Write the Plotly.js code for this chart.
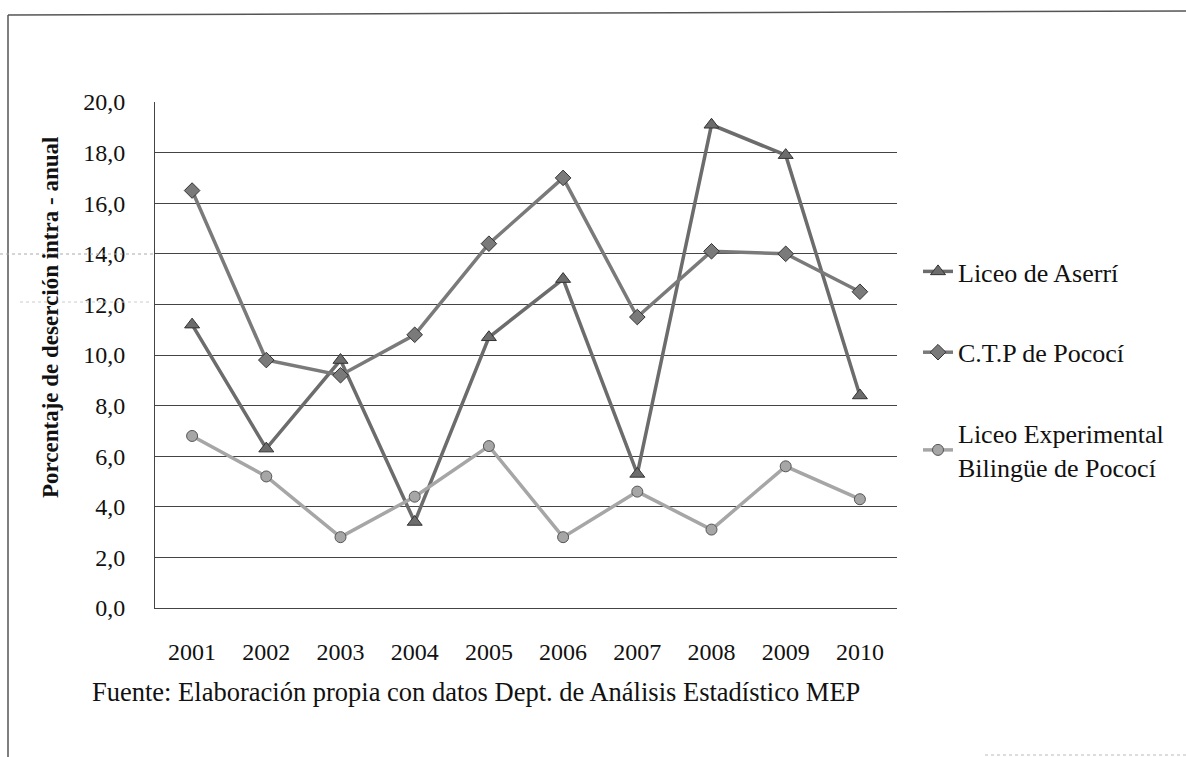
<!DOCTYPE html>
<html>
<head>
<meta charset="utf-8">
<script src="https://cdn.plot.ly/plotly-3.0.1.min.js"></script>
<style>html,body{margin:0;padding:0;background:#fff;}#chart{width:1186px;height:757px;}</style>
</head>
<body>
<div id="chart"></div>
<script>
// ---- data ----
const years = ["2001","2002","2003","2004","2005","2006","2007","2008","2009","2010"];
const liceoAserri = [11.2, 6.3, 9.8, 3.4, 10.7, 13.0, 5.3, 19.1, 17.9, 8.4];
const ctpPococi = [16.5, 9.8, 9.2, 10.8, 14.4, 17.0, 11.5, 14.1, 14.0, 12.5];
const liceoExperimental = [6.8, 5.2, 2.8, 4.4, 6.4, 2.8, 4.6, 3.1, 5.6, 4.3];
const seriesNames = ["Liceo de Aserrí", "C.T.P de Pococí", "Liceo Experimental<br>Bilingüe de Pococí"];
const yTitle = "Porcentaje de deserción intra - anual";
const sourceNote = "Fuente: Elaboración propia con datos Dept. de Análisis Estadístico MEP";

const serif = "Liberation Serif";

// plot area in pixels: x 155..897, y 102..608
const W = 1186, H = 757, L = 155, R = 897, T = 102, B = 608;
const px = v => (v - L) / (R - L);
const py = v => (B - v) / (B - T);

const traces = [
  {x: years, y: liceoAserri, name: seriesNames[0], legendgroup: "a", mode: "lines+markers",
   line: {color: "#6c6c6c", width: 3.5},
   marker: {symbol: "triangle-up", size: 13, color: "#6c6c6c", line: {color: "#333", width: 1}}},
  {x: years, y: ctpPococi, name: seriesNames[1], legendgroup: "b", mode: "lines+markers",
   line: {color: "#7a7a7a", width: 3.5},
   marker: {symbol: "diamond", size: 12, color: "#7a7a7a", line: {color: "#333", width: 1}}},
  {x: years, y: liceoExperimental, name: seriesNames[2], legendgroup: "c", mode: "lines+markers",
   line: {color: "#a6a6a6", width: 3.5},
   marker: {symbol: "circle", size: 11, color: "#a6a6a6", line: {color: "#555", width: 1}}}
];

const layout = {
  width: W, height: H,
  margin: {l: L, r: W - R, t: T, b: H - B, pad: 0},
  paper_bgcolor: "#fff", plot_bgcolor: "#fff",
  separators: ",.",
  font: {family: serif, size: 24, color: "#111"},
  showlegend: true,
  legend: {x: px(918), y: py(248), xanchor: "left", yanchor: "top",
           font: {family: serif, size: 26, color: "#111"},
           tracegroupgap: 44, traceorder: "grouped", bgcolor: "rgba(0,0,0,0)"},
  xaxis: {type: "category", range: [-0.5, 9.5], showgrid: false, zeroline: false,
          showline: true, linecolor: "#444", linewidth: 1, ticks: "",
          ticklabelstandoff: 22, tickfont: {family: serif, size: 24, color: "#111"}, fixedrange: true},
  yaxis: {range: [0, 20], dtick: 2, tickformat: ".1f", showgrid: true, gridcolor: "#444", gridwidth: 1,
          zeroline: false, showline: true, linecolor: "#444", linewidth: 1, ticks: "",
          ticklabelstandoff: 24, tickfont: {family: serif, size: 24, color: "#111"}, fixedrange: true},
  annotations: [
    {text: "<b>" + yTitle + "</b>", xref: "paper", yref: "paper", x: px(50), y: py(318),
     textangle: -90, showarrow: false, font: {family: serif, size: 23, color: "#111"},
     xanchor: "center", yanchor: "middle"},
    {text: sourceNote, xref: "paper", yref: "paper", x: px(90), y: py(692),
     showarrow: false, xanchor: "left", yanchor: "middle",
     font: {family: serif, size: 26.5, color: "#111"}}
  ],
  shapes: [
    {type: "line", xref: "paper", yref: "paper", x0: px(8), x1: px(1186), y0: py(15), y1: py(11),
     line: {color: "#555", width: 1.5}},
    {type: "line", xref: "paper", yref: "paper", x0: px(8), x1: px(8), y0: py(15), y1: py(757),
     line: {color: "#555", width: 1.5}},
    {type: "line", xref: "paper", yref: "paper", x0: px(985), x1: px(1186), y0: py(755), y1: py(755),
     line: {color: "#bbb", width: 1, dash: "dot"}},
    {type: "line", xref: "paper", yref: "paper", x0: px(0), x1: px(155), y0: py(254), y1: py(254),
     line: {color: "#aaa", width: 1, dash: "dot"}},
    {type: "line", xref: "paper", yref: "paper", x0: px(20), x1: px(150), y0: py(302), y1: py(302),
     line: {color: "#ccc", width: 1, dash: "dot"}}
  ]
};

Plotly.newPlot("chart", traces, layout, {displayModeBar: false, staticPlot: true});
</script>
</body>
</html>
